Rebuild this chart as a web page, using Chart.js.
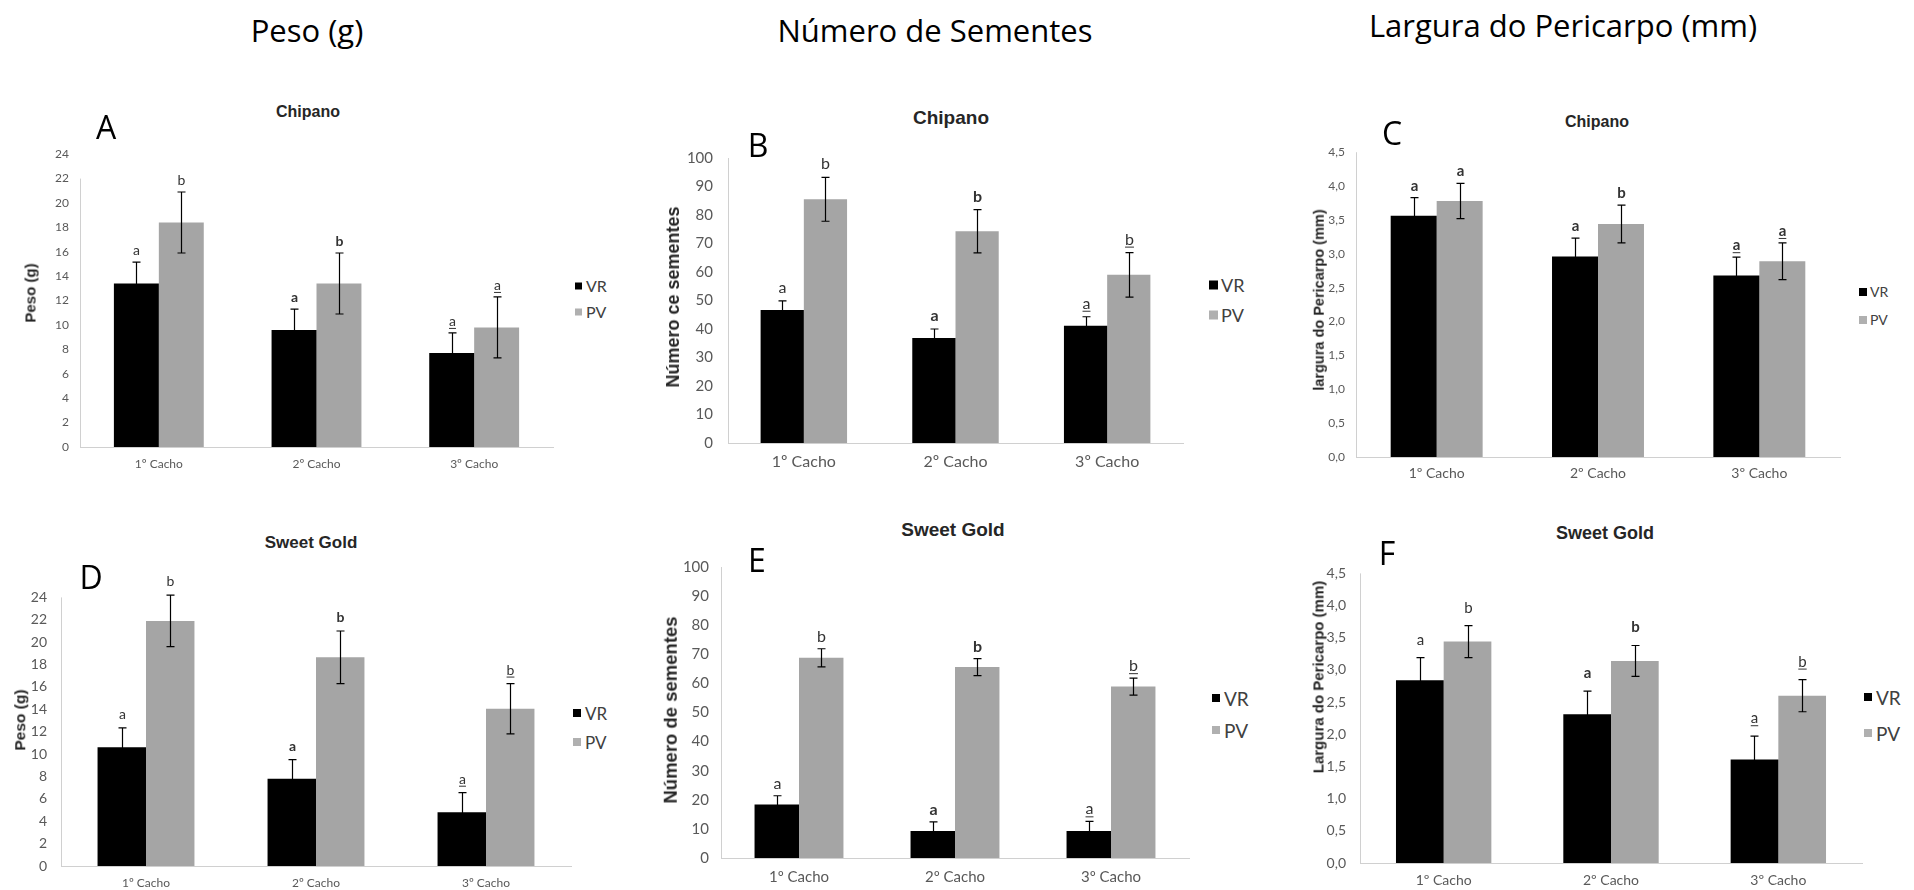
<!DOCTYPE html>
<html><head><meta charset="utf-8">
<script src="https://cdn.jsdelivr.net/npm/chart.js@4.4.0/dist/chart.umd.min.js"></script>
<style>
html,body{margin:0;padding:0;background:#fff;}
body{width:1914px;height:890px;position:relative;overflow:hidden;font-family:'Open Sans',sans-serif;}
.t{position:absolute;transform:translate(-50%,-50%);white-space:nowrap;line-height:1;color:#000;}
.ct{position:absolute;transform:translate(-50%,-50%);white-space:nowrap;line-height:1;font-family:'Liberation Sans',Arial,sans-serif;font-weight:bold;color:#262626;}
.rot{position:absolute;transform:translate(-50%,-50%) rotate(-90deg);white-space:nowrap;font-family:'Liberation Sans',Arial,sans-serif;font-weight:bold;color:#262626;line-height:1;}
.box{position:absolute;}
.sq{position:absolute;transform:translateY(-50%);}
.lt{position:absolute;transform:translateY(-50%);font-family:Lato,sans-serif;color:#404040;line-height:1;white-space:nowrap;}
</style></head><body>
<script>
// ---- data ----
const categories = ['1º Cacho', '2º Cacho', '3º Cacho'];
const seriesNames = ['VR', 'PV'];

// A: Peso (g) - Chipano
const pesoChipanoVR = [13.4, 9.6, 7.7];
const pesoChipanoPV = [18.4, 13.4, 9.8];
const pesoChipanoVRErr = [1.75, 1.7, 1.65];
const pesoChipanoPVErr = [2.5, 2.5, 2.5];
const pesoChipanoVRLetters = ['a', 'a', 'a'];
const pesoChipanoPVLetters = ['b', 'b', 'a'];

// B: Número de sementes - Chipano
const sementesChipanoVR = [46.7, 36.8, 41.1];
const sementesChipanoPV = [85.5, 74.3, 59.0];
const sementesChipanoVRErr = [3.2, 3.2, 3.2];
const sementesChipanoPVErr = [7.7, 7.6, 7.8];
const sementesChipanoVRLetters = ['a', 'a', 'a'];
const sementesChipanoPVLetters = ['b', 'b', 'b'];

// C: Largura do pericarpo (mm) - Chipano
const larguraChipanoVR = [3.56, 2.96, 2.68];
const larguraChipanoPV = [3.78, 3.44, 2.89];
const larguraChipanoVRErr = [0.27, 0.27, 0.27];
const larguraChipanoPVErr = [0.26, 0.28, 0.27];
const larguraChipanoVRLetters = ['a', 'a', 'a'];
const larguraChipanoPVLetters = ['a', 'b', 'a'];

// D: Peso (g) - Sweet Gold
const pesoSweetVR = [10.6, 7.8, 4.8];
const pesoSweetPV = [21.9, 18.65, 14.05];
const pesoSweetVRErr = [1.75, 1.7, 1.75];
const pesoSweetPVErr = [2.3, 2.35, 2.25];
const pesoSweetVRLetters = ['a', 'a', 'a'];
const pesoSweetPVLetters = ['b', 'b', 'b'];

// E: Número de sementes - Sweet Gold
const sementesSweetVR = [18.4, 9.3, 9.3];
const sementesSweetPV = [68.8, 65.6, 58.9];
const sementesSweetVRErr = [3.0, 3.1, 3.3];
const sementesSweetPVErr = [3.1, 2.9, 2.9];
const sementesSweetVRLetters = ['a', 'a', 'a'];
const sementesSweetPVLetters = ['b', 'b', 'b'];

// F: Largura do pericarpo (mm) - Sweet Gold
const larguraSweetVR = [2.84, 2.31, 1.61];
const larguraSweetPV = [3.44, 3.14, 2.60];
const larguraSweetVRErr = [0.35, 0.36, 0.36];
const larguraSweetPVErr = [0.25, 0.24, 0.25];
const larguraSweetVRLetters = ['a', 'a', 'a'];
const larguraSweetPVLetters = ['b', 'b', 'b'];

// axis ranges / tick steps
const pesoAxis = [0, 24, 2];
const sementesAxis = [0, 100, 10];
const larguraAxis = [0, 4.5, 0.5];

// letter styles per category (1º normal, 2º bold, 3º underlined)
const letterStyles = ['normal', 'bold', 'underline'];
const letterStylesC = ['bold', 'bold', 'bold underline'];

const rowTitles = ['Peso (g)', 'Número de Sementes', 'Largura do Pericarpo (mm)'];
const panelTitles = ['Chipano', 'Chipano', 'Chipano', 'Sweet Gold', 'Sweet Gold', 'Sweet Gold'];
const panelLetters = ['A', 'B', 'C', 'D', 'E', 'F'];
const yTitles = ['Peso (g)', 'Número ce sementes', 'largura do Pericarpo (mm)', 'Peso (g)', 'Número de sementes', 'Largura do Pericarpo (mm)'];

// ---- layout (positions / sizes / styles) ----
const comma = v => Number(v).toFixed(1).replace('.', ',');
const plain = v => String(v);

const panels = [
  {vr: pesoChipanoVR, pv: pesoChipanoPV, vrErr: pesoChipanoVRErr, pvErr: pesoChipanoPVErr, vrLet: pesoChipanoVRLetters, pvLet: pesoChipanoPVLetters, axis: pesoAxis, fmt: plain, styles: letterStyles,
   L: {axisL: 80, axisR: 553, yTop: 150, yBot: 447, xLabY: 464, tickPad: 11, tickFont: 12, xFont: 12, letFont: 14, gap: 7, axisTopVal: 22},
   title: {x: 308, y: 112, s: 16}, letter: {x: 106, y: 127}, ytitle: {x: 30, y: 293, s: 15},
   legend: {sx: 575, tx: 586, y1: 286, y2: 312, s: 16, sq: 7}},
  {vr: sementesChipanoVR, pv: sementesChipanoPV, vrErr: sementesChipanoVRErr, pvErr: sementesChipanoPVErr, vrLet: sementesChipanoVRLetters, pvLet: sementesChipanoPVLetters, axis: sementesAxis, fmt: plain, styles: letterStyles,
   L: {axisL: 728, axisR: 1183, yTop: 148, yBot: 443, xLabY: 462, tickPad: 15, tickFont: 15, xFont: 16, letFont: 16, gap: 8},
   title: {x: 951, y: 117, s: 19}, letter: {x: 758, y: 145}, ytitle: {x: 673, y: 297, s: 18},
   legend: {sx: 1209, tx: 1221, y1: 285, y2: 315, s: 18, sq: 9}},
  {vr: larguraChipanoVR, pv: larguraChipanoPV, vrErr: larguraChipanoVRErr, pvErr: larguraChipanoPVErr, vrLet: larguraChipanoVRLetters, pvLet: larguraChipanoPVLetters, axis: larguraAxis, fmt: comma, styles: letterStylesC,
   L: {axisL: 1356, axisR: 1840, yTop: 148, yBot: 457, xLabY: 473, tickPad: 11, tickFont: 12, xFont: 14, letFont: 15, gap: 7},
   title: {x: 1597, y: 122, s: 16}, letter: {x: 1392, y: 133}, ytitle: {x: 1319, y: 300, s: 14.5},
   legend: {sx: 1859, tx: 1870, y1: 292, y2: 320, s: 14, sq: 8}},
  {vr: pesoSweetVR, pv: pesoSweetPV, vrErr: pesoSweetVRErr, pvErr: pesoSweetPVErr, vrLet: pesoSweetVRLetters, pvLet: pesoSweetPVLetters, axis: pesoAxis, fmt: plain, styles: letterStyles,
   L: {axisL: 61, axisR: 571, yTop: 589, yBot: 866, xLabY: 883, tickPad: 14, tickFont: 14, xFont: 12, letFont: 14, gap: 9},
   title: {x: 311, y: 542, s: 17}, letter: {x: 91, y: 577}, ytitle: {x: 20, y: 720, s: 15.5},
   legend: {sx: 573, tx: 585, y1: 713, y2: 742, s: 17, sq: 8}},
  {vr: sementesSweetVR, pv: sementesSweetPV, vrErr: sementesSweetVRErr, pvErr: sementesSweetPVErr, vrLet: sementesSweetVRLetters, pvLet: sementesSweetPVLetters, axis: sementesAxis, fmt: plain, styles: letterStyles,
   L: {axisL: 721, axisR: 1189, yTop: 560, yBot: 858, xLabY: 877, tickPad: 12, tickFont: 15, xFont: 15, letFont: 16, gap: 7},
   title: {x: 953, y: 529, s: 19}, letter: {x: 757, y: 560}, ytitle: {x: 671, y: 710, s: 18.5},
   legend: {sx: 1212, tx: 1224, y1: 698, y2: 730, s: 19, sq: 8}},
  {vr: larguraSweetVR, pv: larguraSweetPV, vrErr: larguraSweetVRErr, pvErr: larguraSweetPVErr, vrLet: larguraSweetVRLetters, pvLet: larguraSweetPVLetters, axis: larguraAxis, fmt: comma, styles: letterStyles,
   L: {axisL: 1360, axisR: 1862, yTop: 565, yBot: 863, xLabY: 880, tickPad: 14, tickFont: 14, xFont: 14, letFont: 15, gap: 13},
   title: {x: 1605, y: 533, s: 18}, letter: {x: 1387, y: 553}, ytitle: {x: 1318, y: 677, s: 15},
   legend: {sx: 1864, tx: 1876, y1: 697, y2: 733, s: 19, sq: 8}}
];

const rowTitlePos = [{x: 307, y: 30}, {x: 935, y: 30}, {x: 1563, y: 25}];

function addText(cls, txt, x, y, css) {
  const d = document.createElement('div');
  d.className = cls; d.textContent = txt;
  d.style.left = x + 'px'; d.style.top = y + 'px';
  Object.assign(d.style, css || {});
  document.body.appendChild(d);
  return d;
}

rowTitles.forEach((t, i) => addText('t', t, rowTitlePos[i].x, rowTitlePos[i].y, {fontSize: '31px'}));

function makePanel(p, idx) {
  const L = p.L;
  const yw = 50, padTop = 14, xh = 34;
  const left = L.axisL - yw;
  const top = L.yTop - padTop;
  const width = L.axisR - left + 2;
  const height = L.yBot - top + xh;
  const div = document.createElement('div');
  div.className = 'box';
  Object.assign(div.style, {left: left + 'px', top: top + 'px', width: width + 'px', height: height + 'px'});
  const cv = document.createElement('canvas');
  div.appendChild(cv);
  document.body.appendChild(div);

  const xPad = Math.max(0, (L.xLabY - L.yBot) - 0.6 * L.xFont);

  const extras = {
    id: 'extras' + idx,
    afterDatasetsDraw(chart) {
      const ctx = chart.ctx, ys = chart.scales.y, ca = chart.chartArea;
      ctx.save();
      ctx.strokeStyle = '#d0d0d0'; ctx.lineWidth = 1;
      const topV = (L.axisTopVal !== undefined) ? L.axisTopVal : p.axis[1];
      ctx.beginPath();
      ctx.moveTo(Math.round(ca.left) + 0.5, ys.getPixelForValue(topV));
      ctx.lineTo(Math.round(ca.left) + 0.5, ca.bottom);
      ctx.stroke();
      chart.data.datasets.forEach((ds, di) => {
        const meta = chart.getDatasetMeta(di);
        meta.data.forEach((el, i) => {
          const v = ds.data[i], e = ds.errors[i];
          const x = Math.round(el.x) + 0.5;
          const yHi = ys.getPixelForValue(v + e), yLo = ys.getPixelForValue(v - e);
          ctx.strokeStyle = '#000'; ctx.lineWidth = 1.2;
          ctx.beginPath();
          ctx.moveTo(x, yHi); ctx.lineTo(x, yLo);
          ctx.moveTo(x - 4, yHi); ctx.lineTo(x + 4, yHi);
          ctx.moveTo(x - 4, yLo); ctx.lineTo(x + 4, yLo);
          ctx.stroke();
          const st = p.styles[i];
          const bold = st.indexOf('bold') >= 0;
          ctx.font = (bold ? 'bold ' : '') + L.letFont + 'px Lato';
          ctx.fillStyle = '#333';
          ctx.textAlign = 'center'; ctx.textBaseline = 'alphabetic';
          const by = yHi - L.gap;
          ctx.fillText(ds.letters[i], x, by);
          if (st.indexOf('underline') >= 0) {
            const w = ctx.measureText(ds.letters[i]).width;
            ctx.strokeStyle = '#333'; ctx.lineWidth = 1;
            ctx.beginPath();
            ctx.moveTo(x - w / 2, by + 2.5); ctx.lineTo(x + w / 2, by + 2.5);
            ctx.stroke();
          }
        });
      });
      ctx.restore();
    }
  };

  new Chart(cv, {
    type: 'bar',
    data: {
      labels: categories,
      datasets: [
        {label: seriesNames[0], data: p.vr, backgroundColor: '#000000', errors: p.vrErr, letters: p.vrLet,
         categoryPercentage: 0.57, barPercentage: 1.0},
        {label: seriesNames[1], data: p.pv, backgroundColor: '#a5a5a5', errors: p.pvErr, letters: p.pvLet,
         categoryPercentage: 0.57, barPercentage: 1.0}
      ]
    },
    options: {
      responsive: true, maintainAspectRatio: false, animation: false,
      layout: {padding: {top: padTop, right: 2, left: 0, bottom: 0}},
      plugins: {legend: {display: false}, tooltip: {enabled: false}, title: {display: false}},
      scales: {
        x: {
          grid: {display: false, drawTicks: false},
          border: {display: true, color: '#d0d0d0', width: 1},
          ticks: {font: {family: 'Lato', size: L.xFont}, color: '#595959', padding: xPad, maxRotation: 0, autoSkip: false},
          afterFit: s => { s.height = xh; }
        },
        y: {
          min: p.axis[0], max: p.axis[1],
          grid: {display: false, drawTicks: false},
          border: {display: false},
          ticks: {stepSize: p.axis[2], font: {family: 'Lato', size: L.tickFont}, color: '#595959', padding: L.tickPad, callback: v => p.fmt(v)},
          afterFit: s => { s.width = yw; }
        }
      }
    },
    plugins: [extras]
  });

  addText('ct', panelTitles[idx], p.title.x, p.title.y, {fontSize: p.title.s + 'px'});
  addText('t', panelLetters[idx], p.letter.x, p.letter.y, {fontSize: '32px'});
  addText('rot', yTitles[idx], p.ytitle.x, p.ytitle.y, {fontSize: p.ytitle.s + 'px'});
  const lg = p.legend;
  [['#000000', seriesNames[0], lg.y1], ['#b0b0b0', seriesNames[1], lg.y2]].forEach(([c, n, y]) => {
    const sq = document.createElement('div');
    sq.className = 'sq';
    Object.assign(sq.style, {left: lg.sx + 'px', top: y + 'px', width: lg.sq + 'px', height: lg.sq + 'px', background: c});
    document.body.appendChild(sq);
    addText('lt', n, lg.tx, y, {fontSize: lg.s + 'px'});
  });
}

panels.forEach(makePanel);
</script>
</body></html>
